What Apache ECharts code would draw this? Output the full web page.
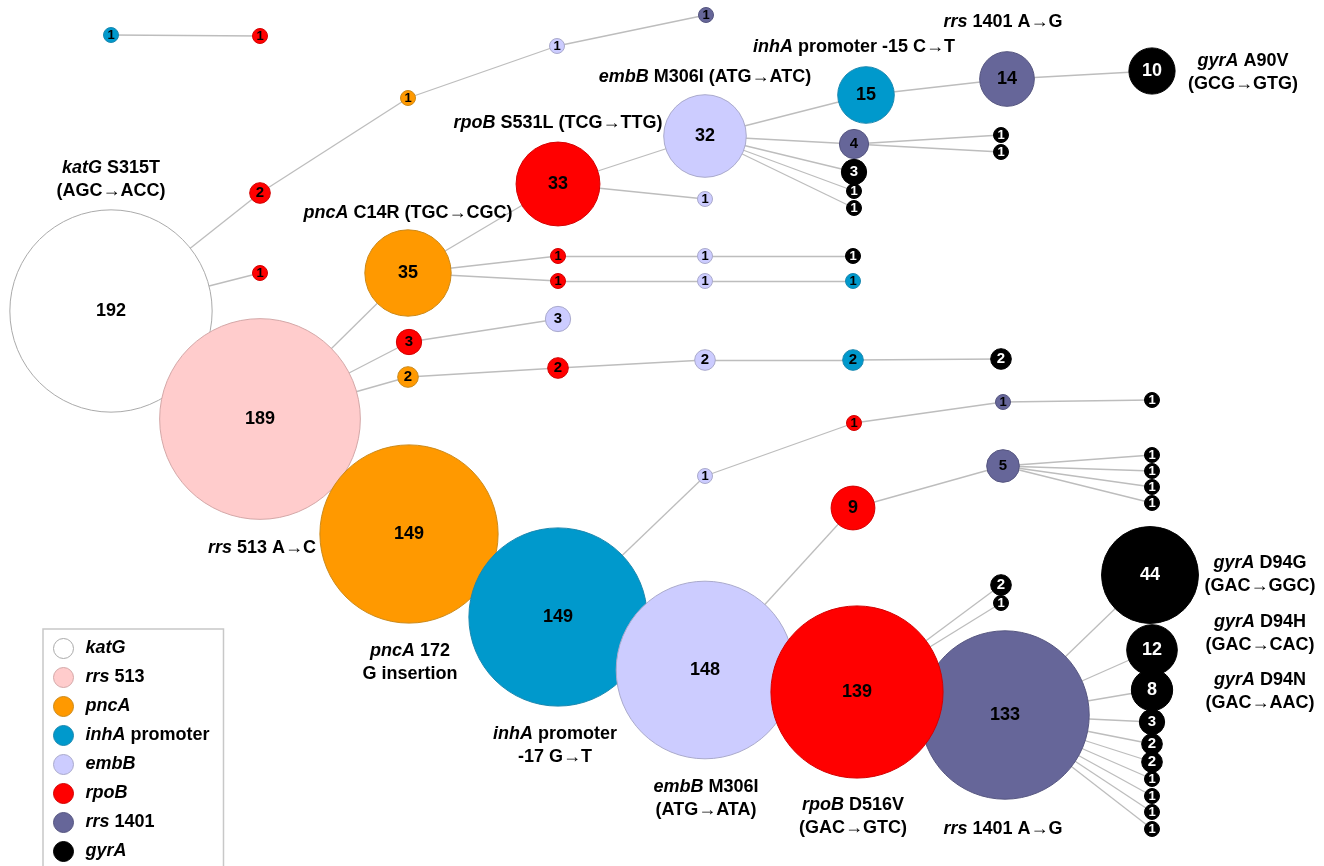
<!DOCTYPE html>
<html>
<head>
<meta charset="utf-8">
<script src="https://cdn.jsdelivr.net/npm/echarts@6/dist/echarts.min.js"></script>
<style>html,body{margin:0;padding:0;background:#fff;}#c{width:1324px;height:866px;}</style>
</head>
<body>
<div id="c"></div>
<script>
// Gene categories (legend)
var geneNames = ['katG', 'rrs 513', 'pncA', 'inhA promoter', 'embB', 'rpoB', 'rrs 1401', 'gyrA'];
var geneLegendText = ['{i|katG}', '{i|rrs} 513', '{i|pncA}', '{i|inhA} promoter', '{i|embB}', '{i|rpoB}', '{i|rrs} 1401', '{i|gyrA}'];
var geneColors = ['#FFFFFF', '#FFCCCC', '#FF9900', '#0099CC', '#CCCCFF', '#FF0000', '#666699', '#000000'];
var geneBorders = ['#aaaaaa', '#d4a8a8', '#cc8a1a', '#1a88b0', '#aaaacc', '#d40000', '#555580', '#000000'];

// Nodes: layout position, isolate count, gene category
var nodeX = [111,260,409,558,705,1005,857,1150,1152,1152,1152,1152,1152,1152,1152,1152,1152,1001,1001,853,1003,1152,1152,1152,1152,705,854,1003,1152,260,408,557,706,260,111,260,408,558,705,866,1007,1152,854,1001,1001,854,854,854,705,558,705,853,558,705,853,409,558,408,558,705,853,1001];
var nodeY = [311,419,534,617,670,715,692,575,650,690,722,744,762,779,796,812,829,585,603,508,466,455,471,487,503,476,423,402,400,193,98,46,15,273,35,36,273,184,136,95,79,71,144,135,152,172,191,208,199,256,256,256,281,281,281,342,319,377,368,360,360,359];
var nodeCount = [192,189,149,149,148,133,139,44,12,8,3,2,2,1,1,1,1,2,1,9,5,1,1,1,1,1,1,1,1,2,1,1,1,1,1,1,35,33,32,15,14,10,4,1,1,3,1,1,1,1,1,1,1,1,1,3,3,2,2,2,2,2];
var nodeGene = [0,1,2,3,4,6,5,7,7,7,7,7,7,7,7,7,7,7,7,5,6,7,7,7,7,4,5,6,7,5,2,4,6,5,3,5,2,5,4,3,6,7,6,7,7,7,7,7,4,5,4,7,5,4,3,5,4,2,5,4,3,7];

// Edges (source index, target index)
var edgeSource = [0,1,2,3,4,6,5,5,5,5,5,5,5,5,5,5,6,6,4,19,20,20,20,20,3,25,26,27,0,29,30,31,0,34,1,36,37,38,39,40,38,42,42,38,38,38,37,36,49,50,36,52,53,1,55,1,57,58,59,60];
var edgeTarget = [1,2,3,4,6,5,7,8,9,10,11,12,13,14,15,16,17,18,19,20,21,22,23,24,25,26,27,28,29,30,31,32,33,35,36,37,38,39,40,41,42,43,44,45,46,47,48,49,50,51,52,53,54,55,56,57,58,59,60,61];

// Mutation annotations
var annoX = [111,408,558,705,854,1003,1243,262,410,555,706,853,1003,1260,1260,1260];
var annoY = [180,213,123,77,47,22,73,548,663,746,799,817,829,575,634,692];
var annoText = [
  '{i|katG} S315T\n(AGC\u2192ACC)',
  '{i|pncA} C14R (TGC\u2192CGC)',
  '{i|rpoB} S531L (TCG\u2192TTG)',
  '{i|embB} M306I (ATG\u2192ATC)',
  '{i|inhA} promoter -15 C\u2192T',
  '{i|rrs} 1401 A\u2192G',
  '{i|gyrA} A90V\n(GCG\u2192GTG)',
  '{i|rrs} 513 A\u2192C',
  '{i|pncA} 172\nG insertion',
  '{i|inhA} promoter\n-17 G\u2192T',
  '{i|embB} M306I\n(ATG\u2192ATA)',
  '{i|rpoB} D516V\n(GAC\u2192GTC)',
  '{i|rrs} 1401 A\u2192G',
  '{i|gyrA} D94G\n(GAC\u2192GGC)',
  '{i|gyrA} D94H\n(GAC\u2192CAC)',
  '{i|gyrA} D94N\n(GAC\u2192AAC)'
];

var FONT = "'Liberation Sans', Arial, Helvetica, sans-serif";

function nodeDiameter(n) { return Math.max(15, 14.6 * Math.sqrt(n)); }
function nodeFont(n) { return n >= 8 ? 18 : (n >= 2 ? 15 : 13); }

var nodes = nodeX.map(function (x, i) {
  var g = nodeGene[i];
  return {
    id: 'n' + i,
    name: 'n' + i,
    value: [x, nodeY[i]],
    category: g,
    symbolSize: nodeDiameter(nodeCount[i]),
    itemStyle: { color: geneColors[g], borderColor: geneBorders[g], borderWidth: 1 },
    label: { color: g === 7 ? '#ffffff' : '#000000', fontSize: nodeFont(nodeCount[i]) }
  };
});
var links = edgeSource.map(function (s, i) {
  return { source: 'n' + s, target: 'n' + edgeTarget[i] };
});

var chart = echarts.init(document.getElementById('c'), null, { renderer: 'canvas' });
chart.setOption({
  animation: false,
  backgroundColor: '#ffffff',
  grid: { left: 0, right: 0, top: 0, bottom: 0 },
  xAxis: { type: 'value', min: 0, max: 1324, show: false },
  yAxis: { type: 'value', min: 0, max: 866, inverse: true, show: false },
  legend: {
    orient: 'vertical',
    left: 43,
    top: 629,
    height: 260,
    selectedMode: false,
    icon: 'circle',
    itemWidth: 20,
    itemHeight: 20,
    itemGap: 8,
    padding: [9, 14, 20, 10],
    borderColor: '#c8c8c8',
    borderWidth: 1.5,
    data: geneNames.map(function (g, i) {
      return { name: g, itemStyle: { color: geneColors[i], borderColor: geneBorders[i], borderWidth: 1 } };
    }),
    formatter: function (name) { return geneLegendText[geneNames.indexOf(name)]; },
    textStyle: {
      fontFamily: FONT, fontSize: 18, fontWeight: 'bold', color: '#000', lineHeight: 20,
      padding: [0, 0, 0, 7],
      rich: { i: { fontFamily: FONT, fontSize: 18, fontWeight: 'bold', fontStyle: 'italic', color: '#000', lineHeight: 20 } }
    }
  },
  series: [
    {
      type: 'graph',
      layout: 'none',
      coordinateSystem: 'cartesian2d',
      categories: geneNames.map(function (g, i) {
        return { name: g, itemStyle: { color: geneColors[i], borderColor: geneBorders[i] } };
      }),
      data: nodes,
      links: links,
      roam: false,
      silent: true,
      lineStyle: { color: '#bdbdbd', width: 1.3, opacity: 1, curveness: 0 },
      label: {
        show: true,
        position: 'inside',
        fontFamily: FONT,
        fontWeight: 'bold',
        formatter: function (p) { return String(nodeCount[p.dataIndex]); }
      },
      emphasis: { disabled: true },
      z: 2
    },
    {
      type: 'scatter',
      silent: true,
      symbolSize: 1,
      itemStyle: { color: 'rgba(0,0,0,0)', opacity: 1 },
      data: annoX.map(function (x, i) {
        return { value: [x, annoY[i]], label: { formatter: annoText[i] } };
      }),
      label: {
        show: true,
        position: 'inside',
        align: 'center',
        verticalAlign: 'middle',
        fontFamily: FONT,
        fontSize: 18,
        fontWeight: 'bold',
        color: '#000000',
        opacity: 1,
        textBorderWidth: 0,
        lineHeight: 23,
        rich: { i: { fontFamily: FONT, fontSize: 18, fontWeight: 'bold', fontStyle: 'italic', color: '#000000', lineHeight: 23 } }
      },
      emphasis: { disabled: true },
      z: 5
    }
  ]
});
</script>
</body>
</html>
